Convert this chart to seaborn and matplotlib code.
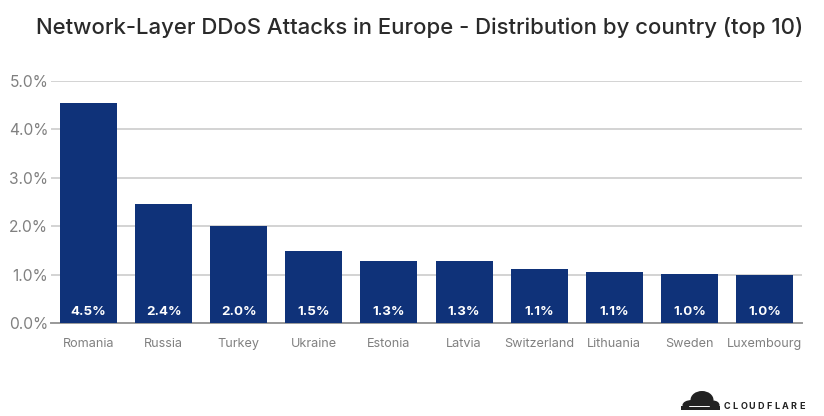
import pandas as pd
import matplotlib
matplotlib.use("Agg")
import matplotlib.pyplot as plt
from matplotlib.patches import Ellipse, Rectangle
import seaborn as sns

# values
countries = ["Romania", "Russia", "Turkey", "Ukraine", "Estonia", "Latvia",
             "Switzerland", "Lithuania", "Sweden", "Luxembourg"]
shares = [4.54, 2.45, 2.01, 1.49, 1.29, 1.28, 1.12, 1.06, 1.02, 1.00]
bar_labels = ["4.5%", "2.4%", "2.0%", "1.5%", "1.3%", "1.3%", "1.1%", "1.1%", "1.0%", "1.0%"]
y_ticks = [0, 1, 2, 3, 4, 5]

sns.set_theme(style="white")
plt.rcParams["font.family"] = ["Inter", "DejaVu Sans"]

df = pd.DataFrame({"country": countries, "share": shares})

fig = plt.figure(figsize=(8.24, 4.16), dpi=100)
ax = fig.add_axes([51 / 824, 93 / 416, 751 / 824, 242 / 416])

sns.barplot(data=df, x="country", y="share", color="#0f3279", saturation=1,
            width=0.76, linewidth=0, ax=ax, zorder=3)
ax.set_xlim(-0.5, 9.5)
ax.set_ylim(0, 5)

# white labels at the foot of each bar
for c, label in zip(ax.patches, bar_labels):
    ax.text(c.get_x() + c.get_width() / 2, 0.23, label, ha="center", va="center",
            color="white", fontsize=9.6, fontweight="bold", zorder=4)

ax.set_yticks(y_ticks)
ax.set_yticklabels([f"{t:.1f}%" for t in y_ticks])
ax.set_xlabel("")
ax.set_ylabel("")
ax.grid(axis="y", color="#c8c8c8", linewidth=1.1, zorder=0)
ax.set_axisbelow(True)
sns.despine(ax=ax, left=True)
ax.spines["bottom"].set_color("#999999")
ax.spines["bottom"].set_linewidth(1.4)
ax.tick_params(axis="y", length=0, pad=2, labelsize=11.2, labelcolor="#808080")
ax.tick_params(axis="x", length=0, pad=11, labelsize=9.1, labelcolor="#808080")

fig.text(420 / 824, 1 - 28 / 416, "Network-Layer DDoS Attacks in Europe - Distribution by country (top 10)",
         ha="center", va="center", fontsize=15.95, fontweight="medium", color="#2a2a2a")

# cloudflare logo, rough cloud shape plus wordmark
logo = fig.add_axes([0, 0, 1, 1], facecolor="none")
logo.set_xlim(0, 824)
logo.set_ylim(416, 0)
logo.axis("off")
logo.add_patch(Ellipse((702, 400), 23, 18, color="#222222", lw=0))
logo.add_patch(Ellipse((692, 405), 19, 10, color="#222222", lw=0))
logo.add_patch(Ellipse((713, 405), 13, 9, color="#222222", lw=0))
logo.add_patch(Rectangle((681, 406), 39, 4, color="#222222", lw=0))
logo.plot([689, 709], [405.5, 405.5], color="white", lw=0.7)
for i, ch in enumerate("CLOUDFLARE"):
    logo.text(727 + i * 8.35, 406.3, ch, ha="center", va="center", fontsize=6.5,
              fontweight="bold", color="#222222")

fig.savefig("out.png", dpi=100)
